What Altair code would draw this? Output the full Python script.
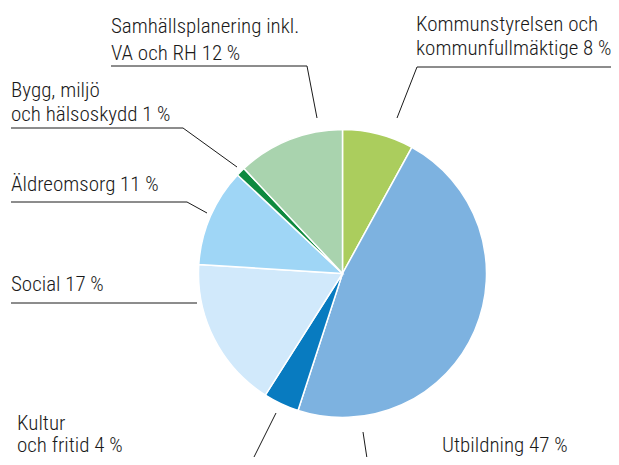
import altair as alt
import pandas as pd

# ---- data ----
categories = [
    "Kommunstyrelsen och kommunfullmäktige",
    "Utbildning",
    "Kultur och fritid",
    "Social",
    "Äldreomsorg",
    "Bygg, miljö och hälsoskydd",
    "Samhällsplanering inkl. VA och RH",
]
shares = [8, 47, 4, 17, 11, 1, 12]
colors = ["#abcd5d", "#7db2e0", "#087bc0", "#d1e9fb", "#9fd6f6", "#0e8a3f", "#a9d3ae"]

label_lines = [
    ["Kommunstyrelsen och", "kommunfullmäktige 8 %"],
    ["Utbildning  47 %"],
    ["Kultur", "och fritid 4 %"],
    ["Social 17 %"],
    ["Äldreomsorg 11 %"],
    ["Bygg, miljö", "och hälsoskydd 1 %"],
    ["Samhällsplanering inkl.", "VA och RH 12 %"],
]

# ---- layout (page pixel coordinates) ----
label_pos = [
    [(416, 31), (416, 55)],
    [(442, 452)],
    [(17, 430), (17, 452)],
    [(11, 291)],
    [(11, 191)],
    [(11, 97), (11, 121)],
    [(111, 33), (111, 60)],
]
leader_paths = [
    [(615, 67), (417, 67), (397, 118)],
    [(363, 432), (368, 465)],
    [(276, 413), (250, 465)],
    [(11, 303), (197, 303)],
    [(11, 202), (187, 202), (207, 213)],
    [(11, 128), (183, 128), (237, 167)],
    [(111, 66), (307, 66), (317, 118)],
]
W, H = 603, 449
CX, CY, R = 342.5, 273.5, 144
FONT = "Roboto Condensed, Liberation Sans Narrow, Roboto, sans-serif"

pie_df = pd.DataFrame({"cat": categories, "share": shares, "idx": list(range(len(categories)))})

text_rows = []
for lines, poss in zip(label_lines, label_pos):
    for t, (px, py) in zip(lines, poss):
        text_rows.append({"text": t, "px": px, "py": py})
text_df = pd.DataFrame(text_rows)

seg_rows = []
for path in leader_paths:
    for (x1, y1), (x2, y2) in zip(path[:-1], path[1:]):
        seg_rows.append({"x1": x1, "y1": y1, "x2": x2, "y2": y2})
seg_df = pd.DataFrame(seg_rows)

xs = alt.Scale(domain=[8, 8 + W], nice=False, zero=False)
ys = alt.Scale(domain=[8, 8 + H], nice=False, zero=False, reverse=True)

pie = alt.Chart(pie_df).mark_arc(
    radius=R, stroke="white", strokeWidth=1.5
).encode(
    theta=alt.Theta("share:Q", stack=True),
    order=alt.Order("idx:Q"),
    color=alt.Color("cat:N", scale=alt.Scale(domain=categories, range=colors), legend=None),
    x=alt.value(CX - 8),
    y=alt.value(CY - 8),
)

rules = alt.Chart(seg_df).mark_rule(color="#1a1a1a", strokeWidth=1).encode(
    x=alt.X("x1:Q", scale=xs, axis=None),
    y=alt.Y("y1:Q", scale=ys, axis=None),
    x2="x2:Q",
    y2="y2:Q",
)

texts = alt.Chart(text_df).mark_text(
    align="left", baseline="alphabetic", font=FONT, fontSize=21, fontWeight=300,
    color="#1a1a1a"
).encode(
    x=alt.X("px:Q", scale=xs, axis=None),
    y=alt.Y("py:Q", scale=ys, axis=None),
    text="text:N",
)

chart = alt.layer(pie, rules, texts).properties(
    width=W, height=H, padding=0, autosize=alt.AutoSizeParams(type="none")
).configure_view(stroke=None)

chart.save("out.html", embed_options={"renderer": "svg", "actions": False})
